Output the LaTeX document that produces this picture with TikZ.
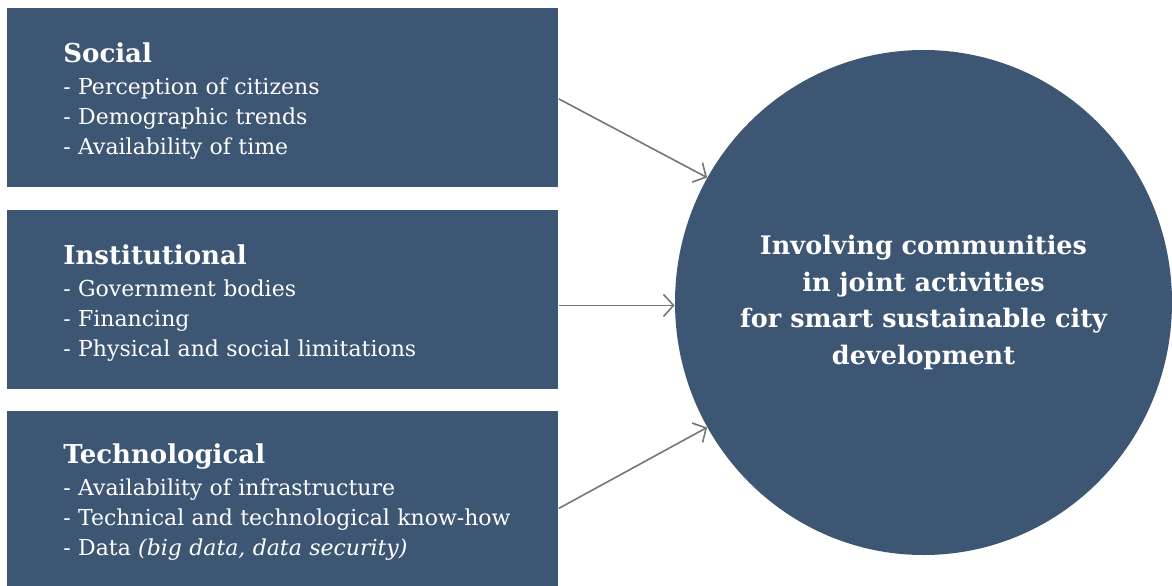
\documentclass[tikz,border=0pt]{standalone}
\usepackage{fontspec}
\setmainfont{DejaVu Serif}
\usetikzlibrary{arrows.meta,shapes.geometric}

\definecolor{boxblue}{RGB}{61,86,115}
\definecolor{arrowgray}{RGB}{118,118,118}

\tikzset{
	factor/.style={fill=boxblue,text=white,rectangle,anchor=north west,
		minimum width=551pt,minimum height=179pt,text width=551pt,
		inner xsep=0pt,inner ysep=0pt,align=left,
		font=\fontsize{22}{30}\selectfont},
	goal/.style={fill=boxblue,text=white,ellipse,inner xsep=-10pt,inner ysep=0pt,
		minimum width=497pt,minimum height=505pt,align=center,
		font=\fontsize{25.5}{36.5}\selectfont\bfseries},
	link/.style={->,color=arrowgray,line width=1.6pt}
}

\newcommand{\factorhead}[1]{\vspace*{6pt}{\fontsize{26}{32}\selectfont\bfseries #1}\\[2pt]}

\begin{document}
\begin{tikzpicture}[>={Straight Barb[length=10pt,width=22pt]},thick,x=1pt,y=-1pt]

\useasboundingbox (0,0) rectangle (1172,586);

\node[factor] (social) at (7,8) {\hspace*{56pt}\parbox[c]{490pt}{\factorhead{Social}
	- Perception of citizens\\
	- Demographic trends\\
	- Availability of time}};

\node[factor] (inst) at (7,210) {\hspace*{56pt}\parbox[c]{490pt}{\factorhead{Institutional}
	- Government bodies\\
	- Financing\\
	- Physical and social limitations}};

\node[factor,minimum height=176pt] (tech) at (7,411) {\hspace*{56pt}\parbox[c]{490pt}{\factorhead{Technological}
	- Availability of infrastructure\\
	- Technical and technological know-how\\
	- Data \textit{(big data, data security)}}};

\node[goal] (city) at (923.5,302.5) {Involving communities\\
	in joint activities\\
	for smart sustainable city\\
	development};

\coordinate (socialout) at ([yshift=-1pt]social.east);
\coordinate (instout) at ([yshift=-5.5pt]inst.east);
\coordinate (techout) at ([yshift=-9pt]tech.east);

\draw[link] (socialout) -- (city.150);
\draw[link] (instout) -- (instout -| city.west);
\draw[link] (techout) -- (city.210);

\end{tikzpicture}
\end{document}
